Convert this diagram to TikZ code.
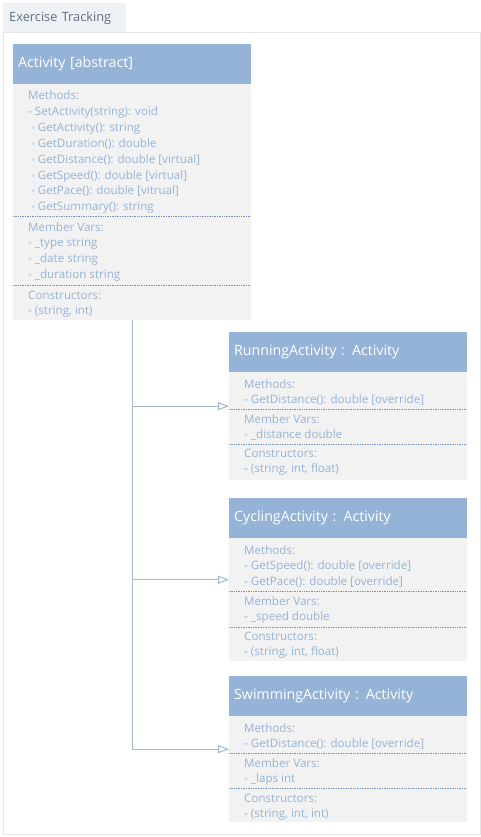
\documentclass[tikz,border=0pt]{standalone}
\usepackage{fontspec}
\setmainfont{Open Sans}
\usetikzlibrary{positioning,arrows.meta}
\definecolor{headblue}{HTML}{95B3D7}
\definecolor{bodygray}{HTML}{F2F2F2}
\definecolor{memberblue}{HTML}{95B3D7}
\definecolor{sepblue}{HTML}{7393BA}
\definecolor{linkblue}{HTML}{A3B9D2}
\definecolor{tabfill}{HTML}{EEF2F7}
\definecolor{tabtext}{HTML}{5F6F80}
\definecolor{framegray}{HTML}{E6E6E6}

\begin{document}
\begin{tikzpicture}
[x=1pt, y=-1pt,
tab/.style={anchor=north west, fill=tabfill, text=tabtext, minimum height=29pt, text width=111pt, inner xsep=6pt, inner ysep=0pt, align=left, font=\fontsize{12.8}{15}\selectfont},
classbox/.style={anchor=north west, fill=bodygray, minimum width=238pt, inner sep=0pt},
classhead/.style={anchor=north west, fill=headblue, text=white, minimum height=40pt, text width=228pt, inner xsep=5pt, inner ysep=0pt, align=left, font=\fontsize{14.2}{17}\selectfont},
member/.style={anchor=base west, text=memberblue, inner sep=0pt, font=\fontsize{11.6}{14}\selectfont},
sep/.style={draw=sepblue, densely dotted, line width=0.7pt},
inherit/.style={draw=linkblue, line width=1pt, -{Triangle[open, length=11pt, width=8pt]}},]
\useasboundingbox (0,0) rectangle (481,837);

% frame and tab
\draw[draw=framegray, fill=white] (3,32) rectangle (480,834);
\node (tab) [tab] at (3,3) {Exercise Tracking};

% base class
\node (activity) [classbox, minimum height=276pt] at (13,44) {};
\node (activityhead) [classhead] at (activity.north west) {Activity [abstract]};
\foreach \t [count=\i from 0] in {Methods:, - SetActivity(string): void, \hspace{3pt}- GetActivity(): string, \hspace{3pt}- GetDuration(): double, \hspace{3pt}- GetDistance(): double [virtual], \hspace{3pt}- GetSpeed(): double [virtual], \hspace{3pt}- GetPace(): double [vitrual], \hspace{3pt}- GetSummary(): string}
  \node [member] at (28, 100+15.8*\i) {\t};
\draw [sep] (13,216) -- (251,216);
\foreach \t [count=\i from 0] in {Member Vars:, - \_type string, - \_date string, - \_duration string}
  \node [member] at (28, 231+15.8*\i) {\t};
\draw [sep] (13,285) -- (251,285);
\foreach \t [count=\i from 0] in {Constructors:, {- (string, int)}}
  \node [member] at (28, 299+15.8*\i) {\t};

% running
\node (running) [classbox, minimum height=148pt] at (229,332) {};
\node (runninghead) [classhead] at (running.north west) {RunningActivity : Activity};
\foreach \t [count=\i from 0] in {Methods:, - GetDistance(): double [override]}
  \node [member] at (244, 388+15.8*\i) {\t};
\draw [sep] (229,409) -- (467,409);
\foreach \t [count=\i from 0] in {Member Vars:, - \_distance double}
  \node [member] at (244, 423+15.8*\i) {\t};
\draw [sep] (229,444) -- (467,444);
\foreach \t [count=\i from 0] in {Constructors:, {- (string, int, float)}}
  \node [member] at (244, 457+15.8*\i) {\t};

% cycling
\node (cycling) [classbox, minimum height=163pt] at (229,498) {};
\node (cyclinghead) [classhead] at (cycling.north west) {CyclingActivity : Activity};
\foreach \t [count=\i from 0] in {Methods:, - GetSpeed(): double [override], - GetPace(): double [override]}
  \node [member] at (244, 554+15.8*\i) {\t};
\draw [sep] (229,591) -- (467,591);
\foreach \t [count=\i from 0] in {Member Vars:, - \_speed double}
  \node [member] at (244, 605+15.8*\i) {\t};
\draw [sep] (229,627) -- (467,627);
\foreach \t [count=\i from 0] in {Constructors:, {- (string, int, float)}}
  \node [member] at (244, 640+15.8*\i) {\t};

% swimming
\node (swimming) [classbox, minimum height=146pt] at (229,676) {};
\node (swimminghead) [classhead] at (swimming.north west) {SwimmingActivity : Activity};
\foreach \t [count=\i from 0] in {Methods:, - GetDistance(): double [override]}
  \node [member] at (244, 732+15.8*\i) {\t};
\draw [sep] (229,753) -- (467,753);
\foreach \t [count=\i from 0] in {Member Vars:, - \_laps int}
  \node [member] at (244, 767+15.8*\i) {\t};
\draw [sep] (229,788) -- (467,788);
\foreach \t [count=\i from 0] in {Constructors:, {- (string, int, int)}}
  \node [member] at (244, 802+15.8*\i) {\t};

% inheritance
\draw [inherit] (activity.south) |- (running.west);
\draw [inherit] (activity.south) |- (cycling.west);
\draw [inherit] (activity.south) |- (swimming.west);

\end{tikzpicture}
\end{document}
